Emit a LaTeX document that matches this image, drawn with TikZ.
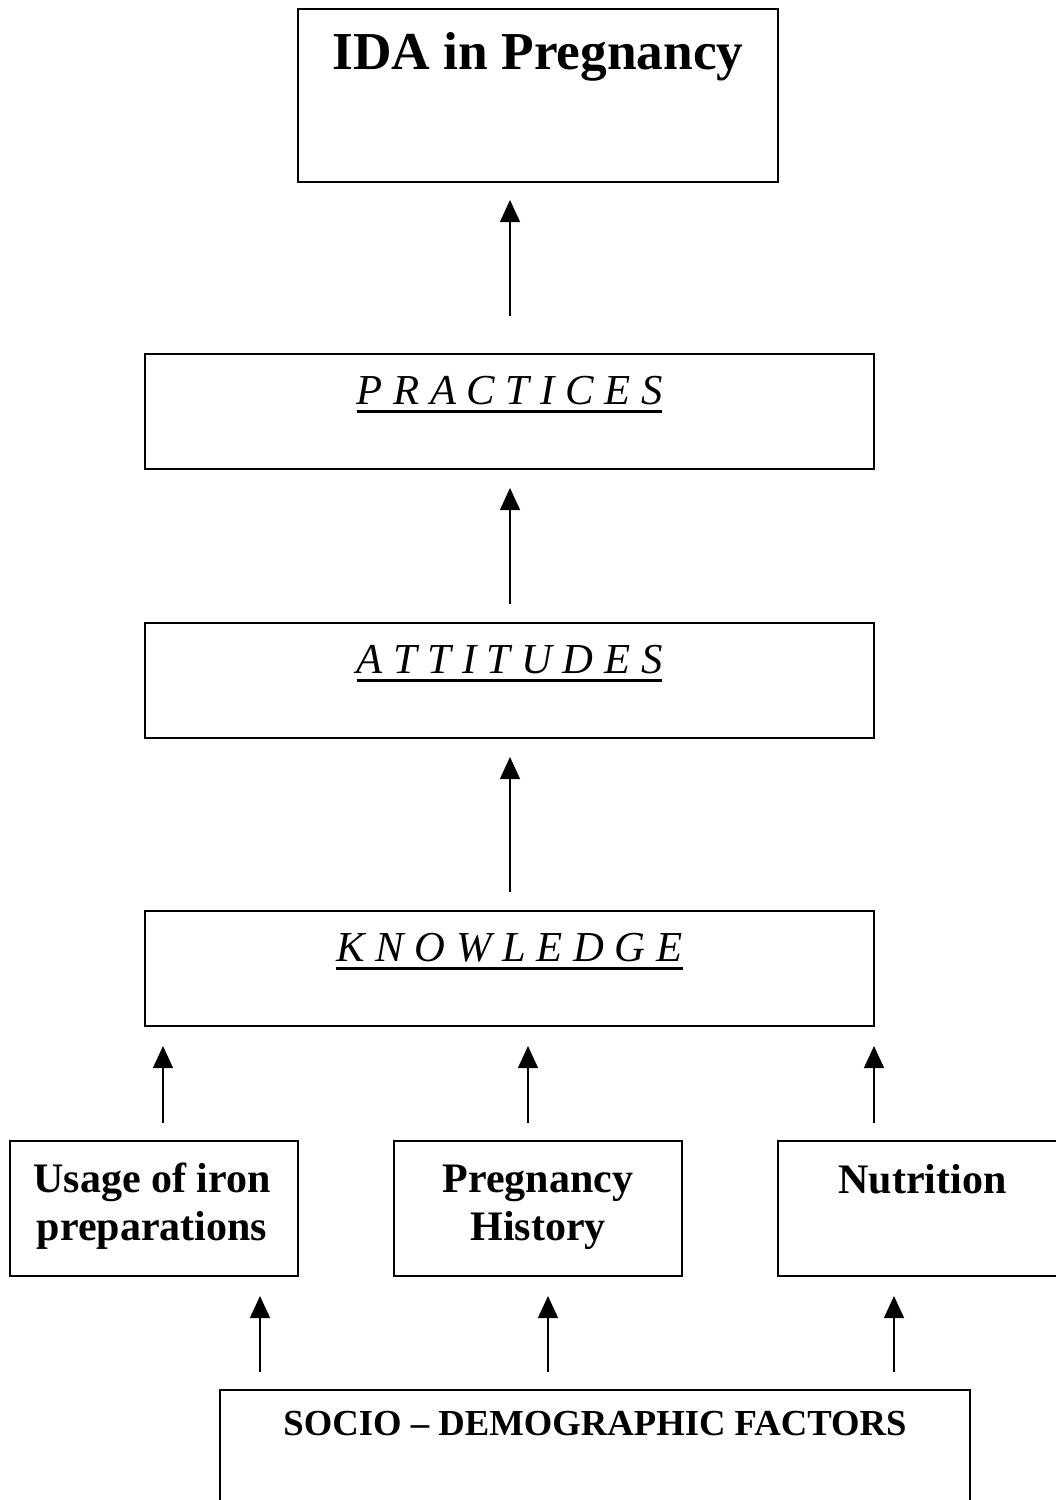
\documentclass[tikz,border=0pt]{standalone}
\usepackage{fontspec}
\setmainfont{Liberation Serif}
\usetikzlibrary{arrows.meta,calc}
\newcommand\thickul[1]{\setbox0=\hbox{#1}\leavevmode\rlap{\copy0}\rule[-6.6pt]{\wd0}{2.2pt}}
\begin{document}
\begin{tikzpicture}[x=0.75pt,y=-0.75pt,
  box/.style={draw,line width=1pt,inner sep=0pt,outer sep=0pt},
  bigbox/.style={box,minimum width=546.75pt,minimum height=86.25pt},
  smallbox/.style={box,minimum width=216pt,minimum height=101.25pt},
  hdr/.style={anchor=base,inner sep=0pt,font=\fontsize{32}{38}\selectfont\itshape},
  lbl/.style={anchor=base,inner sep=0pt,align=center,font=\fontsize{31.5}{35.3}\selectfont\bfseries},
  arr/.style={line width=0.9pt,-{Triangle[width=15pt,length=16.5pt]}}]
\useasboundingbox (0,0) rectangle (1056,1500);
\clip (0,0) rectangle (1056,1500);
% boxes
\node[box,minimum width=360pt,minimum height=129.75pt] (ida) at (538,95.5) {};
\node[bigbox] (prac) at (509.5,411.5) {};
\node[bigbox] (att) at (509.5,680.5) {};
\node[bigbox] (know) at (509.5,968.5) {};
\node[smallbox] (usage) at (154,1208.5) {};
\node[smallbox] (preg) at (538,1208.5) {};
\node[smallbox,minimum width=216.75pt] (nutr) at (922.5,1208.5) {};
\node[box,minimum width=562.5pt,minimum height=105pt] (soc) at (595,1460) {};
% texts
\node[anchor=base,inner sep=0pt,font=\fontsize{40}{46}\selectfont\bfseries] (tida) at ($(ida.north)+(0,60)$) {IDA in Pregnancy};
\node[hdr] (tprac) at ($(prac.north)+(0,50)$) {\thickul{P R A C T I C E S}};
\node[hdr] (tatt) at ($(att.north)+(0,50)$) {\thickul{A T T I T U D E S}};
\node[hdr] (tknow) at ($(know.north)+(0,50)$) {\thickul{K N O W L E D G E}};
\node[lbl] (tusage) at ($(usage.north)+(-2,99)$) {Usage of iron\\preparations};
\node[lbl] (tpreg) at ($(preg.north)+(0,99)$) {Pregnancy\\History};
\node[lbl] (tnutr) at ($(nutr.north)+(0,52)$) {Nutrition};
\node[anchor=base,inner sep=0pt,font=\fontsize{27.5}{32}\selectfont\bfseries] (tsoc) at ($(soc.north)+(0,45)$) {SOCIO – DEMOGRAPHIC FACTORS};
% arrow columns
\coordinate (c1) at (510,0);
\coordinate (c2) at (163,0);
\coordinate (c3) at (528,0);
\coordinate (c4) at (874,0);
\coordinate (c5) at (260,0);
\coordinate (c6) at (548,0);
\coordinate (c7) at (894,0);
% connectors
\draw[arr,shorten <=28.5pt,shorten >=13.5pt] (prac.north -| c1) -- (ida.south -| c1);
\draw[arr,shorten <=14.25pt,shorten >=14.25pt] (att.north -| c1) -- (prac.south -| c1);
\draw[arr,shorten <=14.25pt,shorten >=14.25pt] (know.north -| c1) -- (att.south -| c1);
\draw[arr,shorten <=13.5pt,shorten >=15pt] (usage.north -| c2) -- (know.south -| c2);
\draw[arr,shorten <=13.5pt,shorten >=15pt] (preg.north -| c3) -- (know.south -| c3);
\draw[arr,shorten <=13.5pt,shorten >=15pt] (nutr.north -| c4) -- (know.south -| c4);
\draw[arr,shorten <=13.5pt,shorten >=15pt] (soc.north -| c5) -- (usage.south -| c5);
\draw[arr,shorten <=13.5pt,shorten >=15pt] (soc.north -| c6) -- (preg.south -| c6);
\draw[arr,shorten <=13.5pt,shorten >=15pt] (soc.north -| c7) -- (nutr.south -| c7);
\end{tikzpicture}
\end{document}
